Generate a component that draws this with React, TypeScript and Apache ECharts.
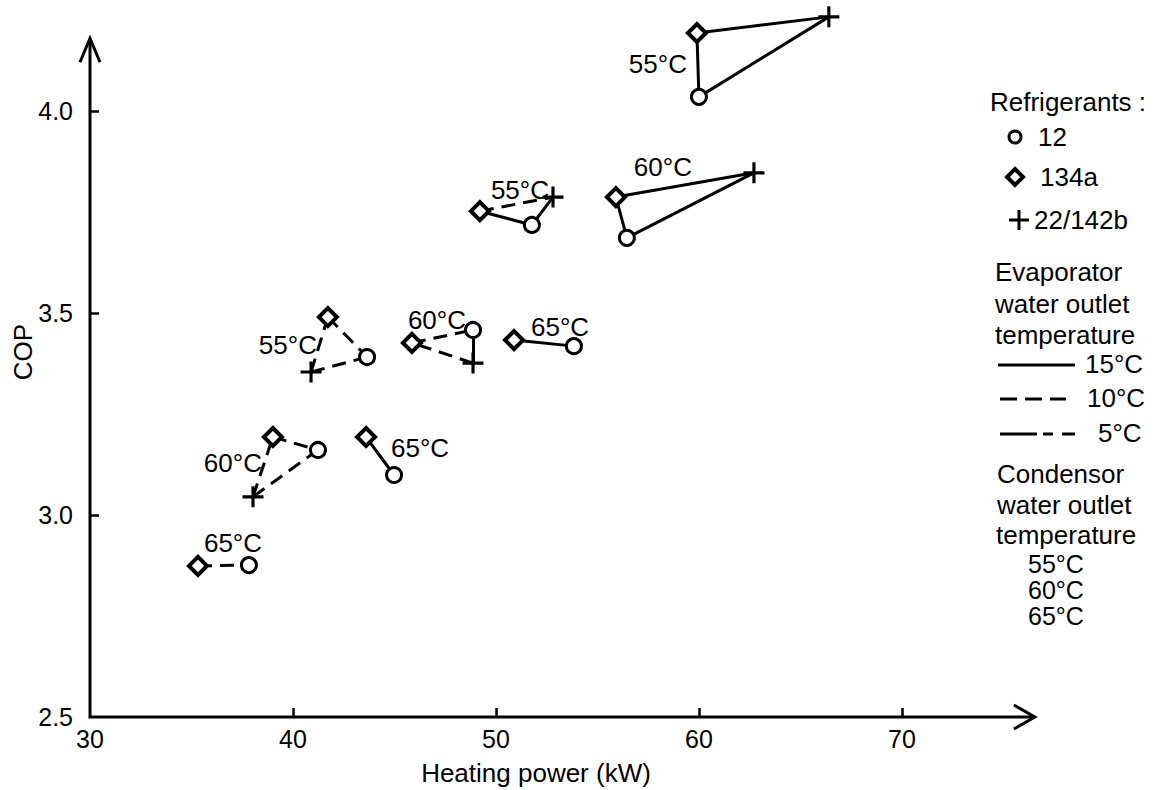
import React, { useEffect, useRef } from 'react';
import * as echarts from 'echarts';

// ---- tick values ----
const xTickLabels = [30, 40, 50, 60, 70];
const xTicks = [40, 50, 60, 70];
const yTickLabels = [2.5, 3.0, 3.5, 4.0];
const yTicks = [3.0, 3.5, 4.0];

// ---- clusters (A..I), condensor water outlet temperature ----
const condensorTemps = ['55°C', '60°C', '55°C', '55°C', '60°C', '65°C', '60°C', '65°C', '65°C'];

// Refrigerant 12 (circles): [heating power kW, COP]
const r12 = [
  [60.0, 4.035], [56.45, 3.686], [51.77, 3.718], [43.65, 3.391], [48.87, 3.458],
  [53.84, 3.418], [41.23, 3.161], [44.98, 3.099], [37.83, 2.876],
];
// Refrigerant 134a (diamonds)
const r134a = [
  [59.9, 4.193], [55.91, 3.787], [49.21, 3.752], [41.72, 3.49], [45.86, 3.426],
  [50.89, 3.433], [39.01, 3.193], [43.6, 3.193], [35.32, 2.874],
];
// Refrigerant 22/142b (plus)
const r22: (number[] | null)[] = [
  [66.4, 4.233], [62.71, 3.847], [52.81, 3.787], [40.89, 3.354], [48.87, 3.376],
  null, [38.03, 3.045], null, null,
];

// connecting segments: [cluster, from, to, style]
const segments: [number, string, string, string][] = [
  [0, 'd', 'p', 'solid'], [0, 'p', 'c', 'solid'], [0, 'c', 'd', 'solid'],
  [1, 'd', 'p', 'solid'], [1, 'p', 'c', 'solid'], [1, 'c', 'd', 'solid'],
  [2, 'd', 'p', 'dash'], [2, 'd', 'c', 'solid'], [2, 'c', 'p', 'solid'],
  [3, 'd', 'c', 'dash'], [3, 'c', 'p', 'dash'], [3, 'p', 'd', 'dash'],
  [4, 'd', 'c', 'dash'], [4, 'c', 'p', 'solid'], [4, 'p', 'd', 'dash'],
  [5, 'd', 'c', 'solid'],
  [6, 'd', 'c', 'dash'], [6, 'c', 'p', 'dash'], [6, 'p', 'd', 'dash'],
  [7, 'd', 'c', 'solid'],
  [8, 'd', 'c', 'dash'],
];

// layout: label pixel offsets from each cluster's 134a point
const labelOffsets = [
  [-39, 31], [47, -30], [40, -21], [-40, 28], [25, -23], [46, -13], [-40, 26], [54, 11], [35, -23],
];

// axis arrow extents
const xArrowEnd = 76.55;
const yArrowEnd = 4.18;

const FONT = '"Liberation Sans", Arial, Helvetica, sans-serif';
const PLUS = 'path://M8.5,0H11.5V8.5H20V11.5H11.5V20H8.5V11.5H0V8.5H8.5Z';

export default function App() {
  const ref = useRef<HTMLDivElement>(null);
  useEffect(() => {
    const chart = echarts.init(ref.current!, null, { renderer: 'svg' });
    const pick = (k: string, i: number) => (k === 'c' ? r12[i] : k === 'd' ? r134a[i] : r22[i]) as number[];
    const dash = [14, 8];
    const linesData = segments.map(([i, a, b, t]) => ({
      coords: [pick(a, i), pick(b, i)],
      lineStyle: { type: t === 'dash' ? dash : 'solid' },
    }));

    const labelStyle = {
      show: true, position: 'inside', color: '#000', fontSize: 26, fontFamily: FONT,
      textBorderWidth: 0, textBorderColor: 'transparent', opacity: 1,
    };

    chart.setOption({
      animation: false,
      backgroundColor: '#fff',
      grid: { left: 90, right: 112, top: 10, bottom: 73 },
      xAxis: {
        type: 'value', min: 30, max: 77, interval: 10,
        axisLine: { show: false },
        splitLine: { show: false },
        axisTick: { show: true, inside: true, length: 9, lineStyle: { color: '#000', width: 2.5 }, customValues: xTicks },
        axisLabel: { customValues: xTickLabels, margin: 9, color: '#000', fontSize: 25, fontFamily: FONT },
      },
      yAxis: {
        type: 'value', min: 2.5, max: 4.25, interval: 0.5,
        axisLine: { show: false },
        splitLine: { show: false },
        axisTick: { show: true, inside: true, length: 9, lineStyle: { color: '#000', width: 2.5 }, customValues: yTicks },
        axisLabel: {
          customValues: yTickLabels, margin: 17, color: '#000', fontSize: 25, fontFamily: FONT,
          formatter: (v: number) => v.toFixed(1),
        },
      },
      series: [
        {
          type: 'lines', coordinateSystem: 'cartesian2d', polyline: false, z: 2, silent: true,
          lineStyle: { color: '#000', width: 3, opacity: 1, curveness: 0 },
          data: linesData,
        },
        {
          type: 'scatter', name: '12', z: 3, symbol: 'circle', symbolSize: 15,
          itemStyle: { color: '#fff', borderColor: '#000', borderWidth: 3, opacity: 1 },
          data: r12,
        },
        {
          type: 'scatter', name: '134a', z: 3, symbol: 'diamond', symbolSize: 18,
          itemStyle: { color: '#fff', borderColor: '#000', borderWidth: 4, opacity: 1 },
          data: r134a,
        },
        {
          type: 'scatter', name: '22/142b', z: 3, symbol: PLUS, symbolSize: 21,
          itemStyle: { color: '#000', borderWidth: 0, opacity: 1 },
          data: r22.filter((p) => p !== null),
        },
        {
          type: 'scatter', name: 'labels', z: 5, silent: true, symbol: 'circle', symbolSize: 1,
          itemStyle: { color: '#000', opacity: 0 },
          label: labelStyle,
          data: r134a.map((p, i) => ({
            value: p,
            label: { ...labelStyle, formatter: condensorTemps[i], offset: labelOffsets[i] },
          })),
        },
      ],
    });

    const o = chart.convertToPixel({ gridIndex: 0 }, [30, 2.5]) as number[];
    const yt = chart.convertToPixel({ gridIndex: 0 }, [30, yArrowEnd]) as number[];
    const xe = chart.convertToPixel({ gridIndex: 0 }, [xArrowEnd, 2.5]) as number[];

    const stroke = { stroke: '#000', lineWidth: 3, fill: null as any, lineJoin: 'miter' };
    const txt = (text: string, x: number, y: number, extra: any = {}) => ({
      type: 'text', z: 10, silent: true,
      style: {
        text, x, y, fill: '#000', font: `26px ${FONT}`, lineHeight: 22,
        align: 'left', verticalAlign: 'middle', textAlign: 'left', textVerticalAlign: 'middle', ...extra,
      },
    });
    const small = { font: `25px ${FONT}`, lineHeight: 21 };

    const graphic: any[] = [
      // axes
      { type: 'polyline', z: 10, silent: true, shape: { points: [[o[0], yt[1]], [o[0], o[1]], [xe[0], o[1]]] }, style: stroke },
      { type: 'polyline', z: 10, silent: true, shape: { points: [[o[0] - 10, yt[1] + 24], [o[0], yt[1]], [o[0] + 10, yt[1] + 24]] }, style: stroke },
      { type: 'polyline', z: 10, silent: true, shape: { points: [[xe[0] - 21, o[1] - 12], [xe[0], o[1]], [xe[0] - 21, o[1] + 12]] }, style: stroke },
      // axis names
      {
        type: 'text', z: 10, silent: true, x: 23, y: 352, rotation: Math.PI / 2,
        style: { text: 'COP', x: 0, y: 0, fill: '#000', font: `26px ${FONT}`, align: 'center', verticalAlign: 'middle', textAlign: 'center', textVerticalAlign: 'middle' },
      },
      txt('Heating power (kW)', 536, 773, { align: 'center', textAlign: 'center' }),
      // legend: refrigerants
      txt('Refrigerants :', 990, 102),
      { type: 'circle', z: 10, silent: true, shape: { cx: 1015, cy: 137, r: 6 }, style: { fill: '#fff', stroke: '#000', lineWidth: 3 } },
      txt('12', 1038, 137),
      { type: 'polygon', z: 10, silent: true, shape: { points: [[1015, 169], [1023, 177], [1015, 185], [1007, 177]] }, style: { fill: '#fff', stroke: '#000', lineWidth: 4 } },
      txt('134a', 1040, 177),
      { type: 'line', z: 10, silent: true, shape: { x1: 1009, y1: 220, x2: 1029, y2: 220 }, style: { stroke: '#000', lineWidth: 3 } },
      { type: 'line', z: 10, silent: true, shape: { x1: 1019, y1: 210, x2: 1019, y2: 230 }, style: { stroke: '#000', lineWidth: 3 } },
      txt('22/142b', 1034, 220),
      // legend: evaporator
      txt('Evaporator', 995, 272),
      txt('water outlet', 995, 304),
      txt('temperature', 995, 335),
      { type: 'line', z: 10, silent: true, shape: { x1: 998, y1: 365, x2: 1075, y2: 365 }, style: { stroke: '#000', lineWidth: 3 } },
      txt('15°C', 1085, 364),
      { type: 'line', z: 10, silent: true, shape: { x1: 1000, y1: 399, x2: 1066, y2: 399 }, style: { stroke: '#000', lineWidth: 3, lineDash: [17, 8] } },
      txt('10°C', 1087, 398),
      { type: 'line', z: 10, silent: true, shape: { x1: 1000, y1: 434, x2: 1075, y2: 434 }, style: { stroke: '#000', lineWidth: 3, lineDash: [37, 6, 10, 9, 14] } },
      txt('5°C', 1098, 433),
      // legend: condensor
      txt('Condensor', 997, 474),
      txt('water outlet', 997, 505),
      txt('temperature', 996, 535),
      txt('55°C', 1028, 564, small),
      txt('60°C', 1028, 590, small),
      txt('65°C', 1028, 616, small),
    ];
    chart.setOption({ graphic });

    return () => chart.dispose();
  }, []);

  return (
    <div
      ref={ref}
      style={{ position: 'fixed', left: 0, top: 0, width: 1156, height: 790, background: '#fff' }}
    />
  );
}
